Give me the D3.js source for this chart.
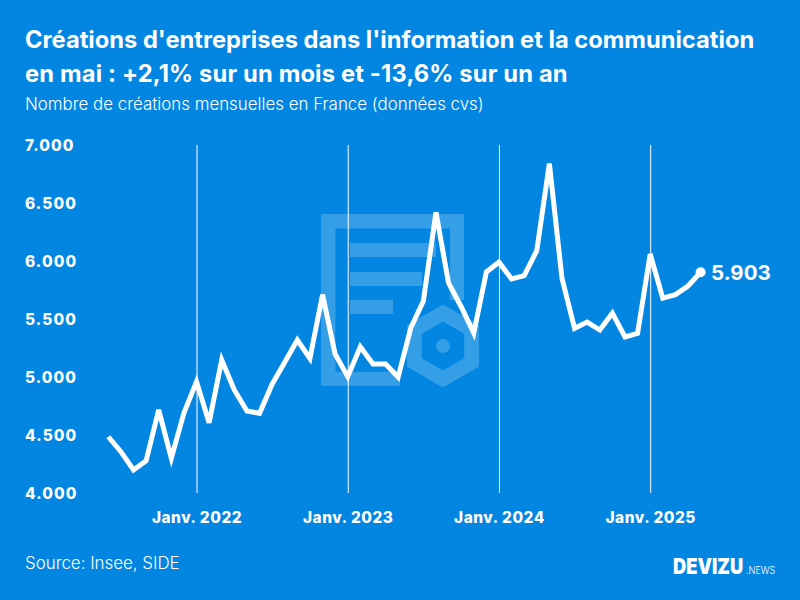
<!DOCTYPE html>
<html lang="fr">
<head>
<meta charset="utf-8">
<script src="https://cdn.jsdelivr.net/npm/d3@7"></script>
<style>
  html, body { margin: 0; padding: 0; background: #0286e2; }
  svg { display: block; }
  text { font-family: Inter, sans-serif; fill: #fff; }
  .title { font-size: 23.7px; font-weight: 700; }
  .subtitle { font-size: 16.9px; font-weight: 300; }
  .axis text { font-size: 15.4px; font-weight: 800; fill: #fff; font-family: Inter, sans-serif; }
  .source { font-size: 16.9px; font-weight: 300; }
  .wm { fill: #fff; fill-opacity: .2; }
</style>
</head>
<body>
<div id="chart"></div>
<script>
// monthly values, June 2021 -> May 2025
const months = d3.range(48);
const creations = [
  4485, 4356, 4198, 4278, 4716, 4300, 4690,
  4960, 4606, 5147, 4888, 4707, 4687, 4938, 5127, 5319, 5160, 5710, 5198,
  5003, 5260, 5112, 5112, 5000, 5422, 5655, 6420, 5810, 5606, 5380, 5905,
  5990, 5845, 5873, 6089, 6840, 5850, 5420, 5474, 5405, 5550, 5345, 5376,
  6060, 5680, 5710, 5784, 5903
];
const yTicks = [4000, 4500, 5000, 5500, 6000, 6500, 7000];
const xTicks = [7, 19, 31, 43];
const xTickLabels = ['Janv. 2022', 'Janv. 2023', 'Janv. 2024', 'Janv. 2025'];
const titleLines = [
  "Créations d'entreprises dans l'information et la communication",
  'en mai : +2,1% sur un mois et -13,6% sur un an'
];
const subtitle = 'Nombre de créations mensuelles en France (données cvs)';
const source = 'Source: Insee, SIDE';

const W = 800, H = 600;
const svg = d3.select('#chart').append('svg').attr('width', W).attr('height', H);
svg.append('rect').attr('width', W).attr('height', H).attr('fill', '#0286e2');

const x = d3.scaleLinear().domain([0, 47]).range([108.3, 700.6]);
const y = d3.scaleLinear().domain([4000, 7000]).range([493, 145]);

// background watermark (document + hexagon)
const wm = svg.append('g');
wm.append('path').attr('class', 'wm')
  .attr('d', 'M321 214H464V300H450V228.5H335.5V371.7H400V385.7H321Z');
[[350, 243, 86], [350, 272, 72], [350, 300, 43]].forEach(function (b) {
  wm.append('rect').attr('class', 'wm').attr('x', b[0]).attr('y', b[1]).attr('width', b[2]).attr('height', 14);
});
function hex(cx, cy, r) {
  const pts = d3.range(6).map(function (i) {
    const a = Math.PI / 3 * i - Math.PI / 2;
    return [cx + r * Math.cos(a), cy + r * Math.sin(a)];
  });
  return 'M' + pts.join('L') + 'Z';
}
wm.append('path').attr('class', 'wm').attr('fill-rule', 'evenodd')
  .attr('d', hex(443, 346, 41.5) + hex(443, 346, 24.5));
wm.append('circle').attr('class', 'wm').attr('cx', 443).attr('cy', 346).attr('r', 7);

// axes
const gx = svg.append('g').attr('class', 'axis').attr('transform', 'translate(0,' + y(4000) + ')')
  .call(d3.axisBottom(x).tickValues(xTicks).tickFormat(function (d, i) { return xTickLabels[i]; })
    .tickSize(-(y(4000) - y(7000))).tickPadding(19));
gx.select('.domain').remove();
gx.selectAll('line').attr('stroke', '#fff').attr('stroke-width', 1);
gx.selectAll('text').attr('letter-spacing', 0.55);

const gy = svg.append('g').attr('class', 'axis')
  .call(d3.axisLeft(y).tickValues(yTicks).tickSize(0)
    .tickFormat(function (d) { return d3.format(',')(d).replace(',', '.'); }));
gy.select('.domain').remove();
gy.selectAll('text').attr('x', 25).attr('y', 1).attr('text-anchor', 'start').attr('letter-spacing', 1.1);

// line
const line = d3.line().x(function (d) { return x(d); }).y(function (d) { return y(creations[d]); });
svg.append('path').datum(months).attr('d', line)
  .attr('fill', 'none').attr('stroke', '#fff').attr('stroke-width', 5).attr('stroke-linejoin', 'miter');

const last = months[months.length - 1];
svg.append('circle').attr('cx', x(last)).attr('cy', y(creations[last])).attr('r', 5).attr('fill', '#fff');
svg.append('text').attr('x', x(last) + 10.5).attr('y', y(creations[last]) + 7.5)
  .attr('font-size', 20.5).attr('font-weight', 700).text(d3.format(',')(creations[last]).replace(',', '.'));

// texts
titleLines.forEach(function (t, i) {
  svg.append('text').attr('class', 'title').attr('x', 25).attr('y', 48.3 + i * 34)
    .attr('letter-spacing', i ? 0.17 : 0).text(t);
});
svg.append('text').attr('class', 'subtitle').attr('x', 25).attr('y', 109.5).text(subtitle);
svg.append('text').attr('class', 'source').attr('x', 25).attr('y', 569).text(source);

// logo
svg.append('text').attr('transform', 'translate(673,573.5) scale(.85,1)')
  .attr('font-size', 21.5).attr('font-weight', 900).text('DEVIZU');
svg.append('text').attr('transform', 'translate(746,573.5) scale(.88,1)')
  .attr('font-size', 10.3).attr('font-weight', 300).text('.NEWS');
</script>
</body>
</html>
